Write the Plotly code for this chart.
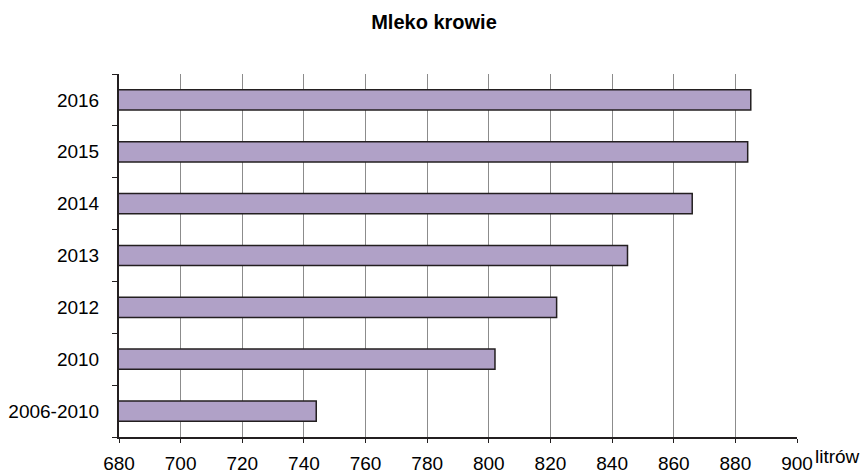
import plotly.graph_objects as go

categories = ["2006-2010", "2010", "2012", "2013", "2014", "2015", "2016"]
values = [744, 802, 822, 845, 866, 884, 885]
x_ticks = [680, 700, 720, 740, 760, 780, 800, 820, 840, 860, 880, 900]

fig = go.Figure()
fig.add_trace(go.Bar(
    y=categories, x=values, orientation="h",
    marker=dict(color="#B0A1C7", line=dict(color="#231F20", width=1.5)),
    width=0.39,
))

font_family = "Liberation Sans, Arial, sans-serif"
fig.update_layout(
    width=867, height=475,
    margin=dict(l=119, r=70, t=74, b=38, autoexpand=False),
    paper_bgcolor="white", plot_bgcolor="white",
    showlegend=False,
    font=dict(family=font_family, size=19, color="#000"),
    title=dict(text="<b>Mleko krowie</b>", x=434 / 867, xref="container", xanchor="center",
               y=1 - 22 / 475, yref="container", yanchor="middle",
               font=dict(size=20, family=font_family)),
    xaxis=dict(range=[680, 900], tickvals=x_ticks, showgrid=True,
               gridcolor="#8C8C8C", gridwidth=1,
               showline=True, linecolor="#231F20", linewidth=2,
               ticks="outside", ticklen=4, tickcolor="#231F20",
               zeroline=False, ticklabelstandoff=4, fixedrange=True,
               automargin=False),
    yaxis=dict(type="category", categoryorder="array", categoryarray=categories,
               showgrid=False, showline=True, linecolor="#231F20", linewidth=2,
               ticks="outside", ticklen=5, tickcolor="#231F20",
               tickson="boundaries", ticklabelstandoff=14, fixedrange=True,
               automargin=False),
)
fig.add_annotation(text="litrów", xref="paper", yref="paper", x=1.0, y=0,
                   xanchor="left", yanchor="middle", showarrow=False,
                   xshift=16, yshift=-19,
                   font=dict(size=19, family=font_family))
fig.write_html("out.html", config={"displayModeBar": False},
               post_script="document.body.style.margin='0';document.body.style.overflow='hidden';")
